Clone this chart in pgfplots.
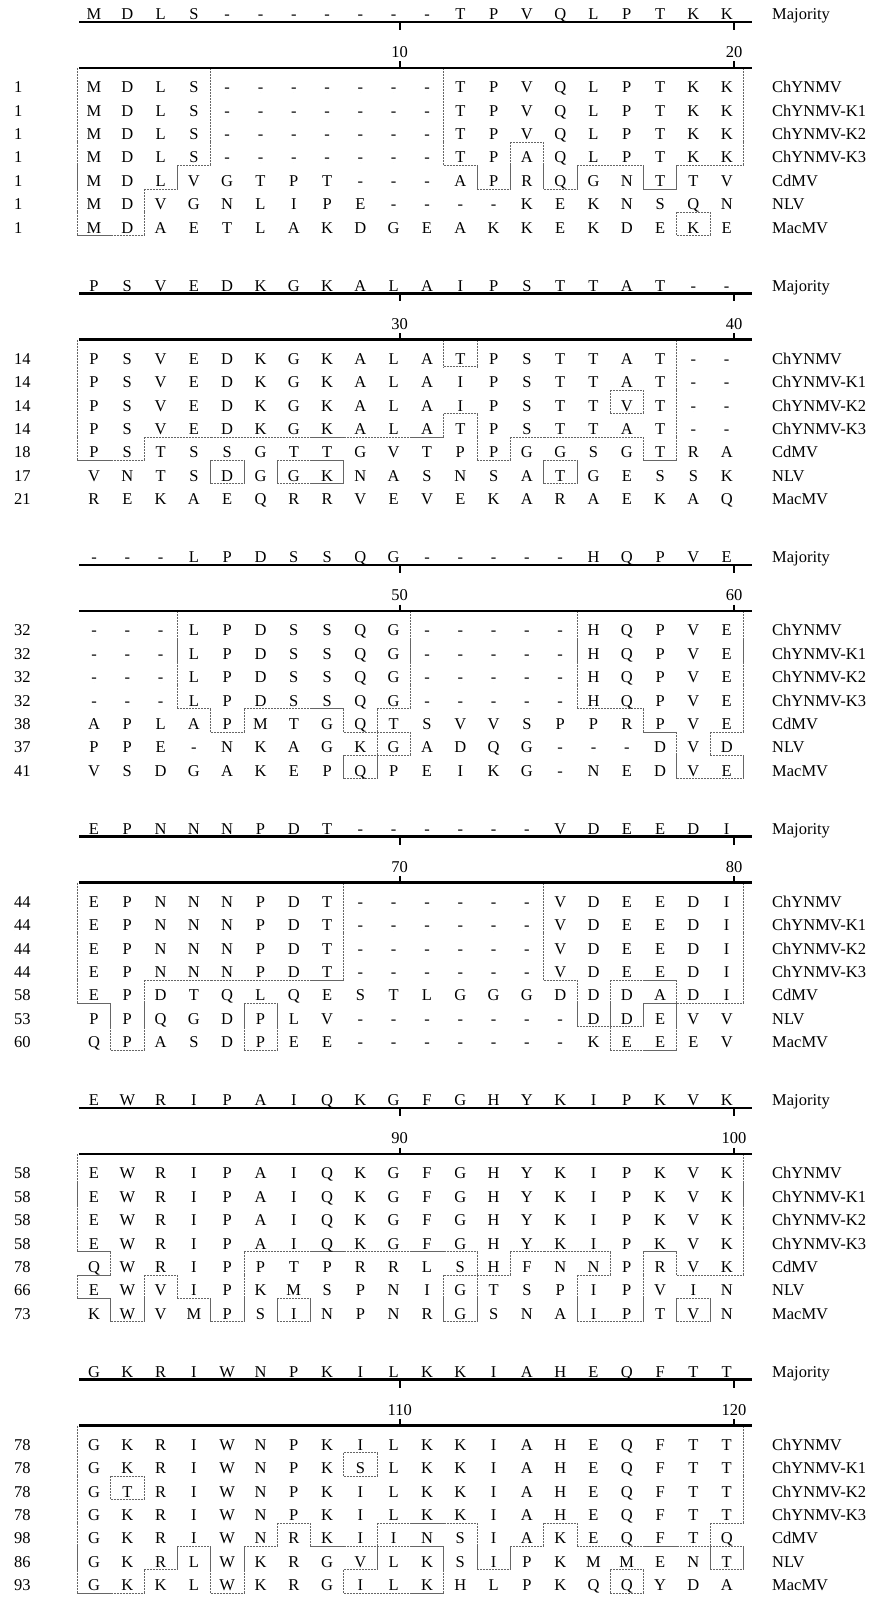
\documentclass[border=0pt]{standalone}
\usepackage{pgfplots}
\pgfplotsset{compat=1.18}
\usepackage{fontspec}
\setmainfont{Liberation Serif}
\newcommand\seqfont{\fontsize{16.5}{18}\selectfont}
\def\dashchar{-}

% sequence names (row 0 = Majority)
\expandafter\def\csname nm-0\endcsname{Majority}
\expandafter\def\csname nm-1\endcsname{ChYNMV}
\expandafter\def\csname nm-2\endcsname{ChYNMV-K1}
\expandafter\def\csname nm-3\endcsname{ChYNMV-K2}
\expandafter\def\csname nm-4\endcsname{ChYNMV-K3}
\expandafter\def\csname nm-5\endcsname{CdMV}
\expandafter\def\csname nm-6\endcsname{NLV}
\expandafter\def\csname nm-7\endcsname{MacMV}

% \setseq{block}{row}{start number}{residues}
\newcommand\setseq[4]{%
  \expandafter\def\csname seq-#1-#2\endcsname{#4}%
  \expandafter\def\csname num-#1-#2\endcsname{#3}}

% Block 1: positions 1-20
\setseq{0}{0}{}{M,D,L,S,-,-,-,-,-,-,-,T,P,V,Q,L,P,T,K,K}
\setseq{0}{1}{1}{M,D,L,S,-,-,-,-,-,-,-,T,P,V,Q,L,P,T,K,K}
\setseq{0}{2}{1}{M,D,L,S,-,-,-,-,-,-,-,T,P,V,Q,L,P,T,K,K}
\setseq{0}{3}{1}{M,D,L,S,-,-,-,-,-,-,-,T,P,V,Q,L,P,T,K,K}
\setseq{0}{4}{1}{M,D,L,S,-,-,-,-,-,-,-,T,P,A,Q,L,P,T,K,K}
\setseq{0}{5}{1}{M,D,L,V,G,T,P,T,-,-,-,A,P,R,Q,G,N,T,T,V}
\setseq{0}{6}{1}{M,D,V,G,N,L,I,P,E,-,-,-,-,K,E,K,N,S,Q,N}
\setseq{0}{7}{1}{M,D,A,E,T,L,A,K,D,G,E,A,K,K,E,K,D,E,K,E}
% Block 2: positions 21-40
\setseq{1}{0}{}{P,S,V,E,D,K,G,K,A,L,A,I,P,S,T,T,A,T,-,-}
\setseq{1}{1}{14}{P,S,V,E,D,K,G,K,A,L,A,T,P,S,T,T,A,T,-,-}
\setseq{1}{2}{14}{P,S,V,E,D,K,G,K,A,L,A,I,P,S,T,T,A,T,-,-}
\setseq{1}{3}{14}{P,S,V,E,D,K,G,K,A,L,A,I,P,S,T,T,V,T,-,-}
\setseq{1}{4}{14}{P,S,V,E,D,K,G,K,A,L,A,T,P,S,T,T,A,T,-,-}
\setseq{1}{5}{18}{P,S,T,S,S,G,T,T,G,V,T,P,P,G,G,S,G,T,R,A}
\setseq{1}{6}{17}{V,N,T,S,D,G,G,K,N,A,S,N,S,A,T,G,E,S,S,K}
\setseq{1}{7}{21}{R,E,K,A,E,Q,R,R,V,E,V,E,K,A,R,A,E,K,A,Q}
% Block 3: positions 41-60
\setseq{2}{0}{}{-,-,-,L,P,D,S,S,Q,G,-,-,-,-,-,H,Q,P,V,E}
\setseq{2}{1}{32}{-,-,-,L,P,D,S,S,Q,G,-,-,-,-,-,H,Q,P,V,E}
\setseq{2}{2}{32}{-,-,-,L,P,D,S,S,Q,G,-,-,-,-,-,H,Q,P,V,E}
\setseq{2}{3}{32}{-,-,-,L,P,D,S,S,Q,G,-,-,-,-,-,H,Q,P,V,E}
\setseq{2}{4}{32}{-,-,-,L,P,D,S,S,Q,G,-,-,-,-,-,H,Q,P,V,E}
\setseq{2}{5}{38}{A,P,L,A,P,M,T,G,Q,T,S,V,V,S,P,P,R,P,V,E}
\setseq{2}{6}{37}{P,P,E,-,N,K,A,G,K,G,A,D,Q,G,-,-,-,D,V,D}
\setseq{2}{7}{41}{V,S,D,G,A,K,E,P,Q,P,E,I,K,G,-,N,E,D,V,E}
% Block 4: positions 61-80
\setseq{3}{0}{}{E,P,N,N,N,P,D,T,-,-,-,-,-,-,V,D,E,E,D,I}
\setseq{3}{1}{44}{E,P,N,N,N,P,D,T,-,-,-,-,-,-,V,D,E,E,D,I}
\setseq{3}{2}{44}{E,P,N,N,N,P,D,T,-,-,-,-,-,-,V,D,E,E,D,I}
\setseq{3}{3}{44}{E,P,N,N,N,P,D,T,-,-,-,-,-,-,V,D,E,E,D,I}
\setseq{3}{4}{44}{E,P,N,N,N,P,D,T,-,-,-,-,-,-,V,D,E,E,D,I}
\setseq{3}{5}{58}{E,P,D,T,Q,L,Q,E,S,T,L,G,G,G,D,D,D,A,D,I}
\setseq{3}{6}{53}{P,P,Q,G,D,P,L,V,-,-,-,-,-,-,-,D,D,E,V,V}
\setseq{3}{7}{60}{Q,P,A,S,D,P,E,E,-,-,-,-,-,-,-,K,E,E,E,V}
% Block 5: positions 81-100
\setseq{4}{0}{}{E,W,R,I,P,A,I,Q,K,G,F,G,H,Y,K,I,P,K,V,K}
\setseq{4}{1}{58}{E,W,R,I,P,A,I,Q,K,G,F,G,H,Y,K,I,P,K,V,K}
\setseq{4}{2}{58}{E,W,R,I,P,A,I,Q,K,G,F,G,H,Y,K,I,P,K,V,K}
\setseq{4}{3}{58}{E,W,R,I,P,A,I,Q,K,G,F,G,H,Y,K,I,P,K,V,K}
\setseq{4}{4}{58}{E,W,R,I,P,A,I,Q,K,G,F,G,H,Y,K,I,P,K,V,K}
\setseq{4}{5}{78}{Q,W,R,I,P,P,T,P,R,R,L,S,H,F,N,N,P,R,V,K}
\setseq{4}{6}{66}{E,W,V,I,P,K,M,S,P,N,I,G,T,S,P,I,P,V,I,N}
\setseq{4}{7}{73}{K,W,V,M,P,S,I,N,P,N,R,G,S,N,A,I,P,T,V,N}
% Block 6: positions 101-120
\setseq{5}{0}{}{G,K,R,I,W,N,P,K,I,L,K,K,I,A,H,E,Q,F,T,T}
\setseq{5}{1}{78}{G,K,R,I,W,N,P,K,I,L,K,K,I,A,H,E,Q,F,T,T}
\setseq{5}{2}{78}{G,K,R,I,W,N,P,K,S,L,K,K,I,A,H,E,Q,F,T,T}
\setseq{5}{3}{78}{G,T,R,I,W,N,P,K,I,L,K,K,I,A,H,E,Q,F,T,T}
\setseq{5}{4}{78}{G,K,R,I,W,N,P,K,I,L,K,K,I,A,H,E,Q,F,T,T}
\setseq{5}{5}{98}{G,K,R,I,W,N,R,K,I,I,N,S,I,A,K,E,Q,F,T,Q}
\setseq{5}{6}{86}{G,K,R,L,W,K,R,G,V,L,K,S,I,P,K,M,M,E,N,T}
\setseq{5}{7}{93}{G,K,K,L,W,K,R,G,I,L,K,H,L,P,K,Q,Q,Y,D,A}

\pgfplotsset{
  letters/.style={only marks, mark=*, mark size=0pt,
    mark options={draw=none, fill=none},
    point meta=explicit symbolic,
    nodes near coords={\pgfplotspointmeta},
    every node near coord/.append style={font=\seqfont, anchor=base,
      inner sep=0pt, text=black}},
  labelsW/.style={letters,
    every node near coord/.append style={anchor=base west}},
  edge/.style={draw=black!60, line width=0.7pt, mark=none,
    dash pattern=on 2.2pt off 0.8pt},
  ruler/.style={draw=black, line width=2.1pt, mark=none},
  tickst/.style={draw=black, line width=2pt, mark=none},
}

\begin{document}
\begin{tikzpicture}
\begin{axis}[
  x=33.3pt, y=1pt, y dir=reverse,
  xmin=-1.8228, xmax=24.453, ymin=0, ymax=1602,
  hide axis, clip=false,
]
\addplot[draw=none, mark=none] coordinates {(-1.8228,0) (24.453,1602)};
\gdef\allcmds{}
\gdef\lcoords{}
\foreach \bk in {0,...,5}{%
  \pgfmathsetmacro\yoff{\bk*271.5}%
  \foreach \rr in {0,...,8}{\foreach \cc in {0,...,21}{%
    \expandafter\xdef\csname m-\rr-\cc\endcsname{0}}}%
  % Majority row
  \gdef\coords{}%
  \pgfmathsetmacro\yy{19.5+\yoff}%
  \edef\seqlist{\csname seq-\bk-0\endcsname}%
  \foreach \ch [count=\cc] in \seqlist {%
    \expandafter\xdef\csname maj-\cc\endcsname{\ch}%
    \xdef\coords{\coords (\cc,\yy) [\ch]}%
  }%
  \xdef\allcmds{\unexpanded\expandafter{\allcmds}\noexpand\addplot[letters] coordinates {\coords};}%
  \xdef\lcoords{\lcoords (21.36,\yy) [Majority]}%
  % sequence rows
  \foreach \rr in {1,...,7}{%
    \pgfmathsetmacro\yy{92.8+(\rr-1)*23.4+\yoff}%
    \gdef\coords{}%
    \edef\seqlist{\csname seq-\bk-\rr\endcsname}%
    \foreach \ch [count=\cc] in \seqlist {%
      \xdef\coords{\coords (\cc,\yy) [\ch]}%
      \edef\curch{\ch}\edef\majch{\csname maj-\cc\endcsname}%
      \ifx\curch\majch\ifx\curch\dashchar\else
        \expandafter\xdef\csname m-\rr-\cc\endcsname{1}\fi\fi
    }%
    \xdef\allcmds{\unexpanded\expandafter{\allcmds}\noexpand\addplot[letters] coordinates {\coords};}%
    \xdef\lcoords{\lcoords (-1.402,\yy) [\csname num-\bk-\rr\endcsname] (21.36,\yy) [\csname nm-\rr\endcsname]}%
  }%
  % outlines of the residues that match the majority
  \foreach \rr in {1,...,7}{%
    \pgfmathsetmacro\ybot{95.3+(\rr-1)*23.4+\yoff}%
    \ifnum\rr=1 \def\ytb{68}\else\pgfmathsetmacro\ytb{95.3+(\rr-2)*23.4}\fi
    \pgfmathsetmacro\ytop{\ytb+\yoff}%
    \foreach \cc in {1,...,20}{%
      \ifnum\csname m-\rr-\cc\endcsname=1\relax
        \pgfmathsetmacro\xl{\cc-0.5}\pgfmathsetmacro\xr{\cc+0.5}%
        \ifnum\csname m-\rr-\the\numexpr\cc-1\relax\endcsname=0\relax
          \xdef\allcmds{\unexpanded\expandafter{\allcmds}\noexpand\addplot[edge] coordinates {(\xl,\ytop) (\xl,\ybot)};}\fi
        \ifnum\csname m-\rr-\the\numexpr\cc+1\relax\endcsname=0\relax
          \xdef\allcmds{\unexpanded\expandafter{\allcmds}\noexpand\addplot[edge] coordinates {(\xr,\ytop) (\xr,\ybot)};}\fi
        \ifnum\rr>1\relax
          \ifnum\csname m-\the\numexpr\rr-1\relax-\cc\endcsname=0\relax
            \xdef\allcmds{\unexpanded\expandafter{\allcmds}\noexpand\addplot[edge] coordinates {(\xl,\ytop) (\xr,\ytop)};}\fi
        \fi
        \ifnum\csname m-\the\numexpr\rr+1\relax-\cc\endcsname=0\relax
          \xdef\allcmds{\unexpanded\expandafter{\allcmds}\noexpand\addplot[edge] coordinates {(\xl,\ybot) (\xr,\ybot)};}\fi
      \fi
    }%
  }%
  % ruler
  \pgfmathsetmacro\ya{22+\yoff}\pgfmathsetmacro\yb{30+\yoff}%
  \pgfmathsetmacro\yc{61.5+\yoff}\pgfmathsetmacro\yd{68+\yoff}%
  \pgfmathsetmacro\ye{57.5+\yoff}%
  \xdef\allcmds{\unexpanded\expandafter{\allcmds}%
    \noexpand\addplot[ruler] coordinates {(0.55,\ya) (20.75,\ya)};%
    \noexpand\addplot[ruler] coordinates {(0.55,\yd) (20.75,\yd)};%
    \noexpand\addplot[tickst] coordinates {(10.18,\ya) (10.18,\yb)};%
    \noexpand\addplot[tickst] coordinates {(20.22,\ya) (20.22,\yb)};%
    \noexpand\addplot[tickst] coordinates {(10.18,\yc) (10.18,\yd)};%
    \noexpand\addplot[tickst] coordinates {(20.22,\yc) (20.22,\yd)};%
    \noexpand\addplot[letters] coordinates {(10.18,\ye) [\the\numexpr20*\bk+10\relax] (20.22,\ye) [\the\numexpr20*\bk+20\relax]};}%
}
\allcmds
\edef\temp{\noexpand\addplot[labelsW] coordinates {\lcoords};}\temp
\end{axis}
\end{tikzpicture}
\end{document}
